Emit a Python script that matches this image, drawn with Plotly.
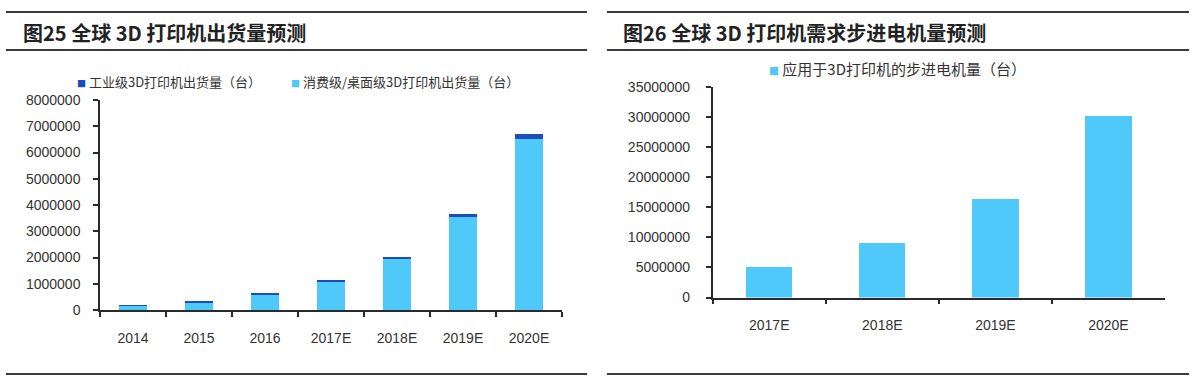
import plotly.graph_objects as go

W, H = 1196, 384

# ---- data ----
years_left = ["2014", "2015", "2016", "2017E", "2018E", "2019E", "2020E"]
industrial = [15000, 20000, 25000, 35000, 50000, 80000, 190000]
consumer = [175000, 300000, 605000, 1085000, 1950000, 3560000, 6530000]

years_right = ["2017E", "2018E", "2019E", "2020E"]
steppers = [5040000, 9000000, 16400000, 30200000]

name_ind = "工业级3D打印机出货量（台）"
name_con = "消费级/桌面级3D打印机出货量（台）"
name_step = "应用于3D打印机的步进电机量（台）"
title_left = "图25 全球 3D 打印机出货量预测"
title_right = "图26 全球 3D 打印机需求步进电机量预测"

C_LIGHT = "#4FC8FA"
C_DARK = "#1C4DB8"
AX = "#2a2a2a"
TXT = "#333333"
NUM_FONT = "Liberation Sans, Arial, sans-serif"
CJK_FONT = "Noto Sans CJK SC, sans-serif"


def px(x):
    return x / W


def py(y):
    return 1 - y / H


fig = go.Figure()
fig.add_trace(go.Bar(x=years_left, y=consumer, name=name_con, marker_color=C_LIGHT,
                     marker_line_width=0, xaxis="x", yaxis="y", showlegend=False))
fig.add_trace(go.Bar(x=years_left, y=industrial, name=name_ind, marker_color=C_DARK,
                     marker_line_width=0, xaxis="x", yaxis="y", showlegend=False))
fig.add_trace(go.Bar(x=years_right, y=steppers, name=name_step, marker_color=C_LIGHT,
                     marker_line_width=0, xaxis="x2", yaxis="y2", showlegend=False))

axis_common = dict(showline=True, linecolor=AX, linewidth=1.5, ticks="outside",
                   tickcolor=AX, tickwidth=1.5, ticklen=5, showgrid=False, zeroline=False,
                   automargin=False,
                   tickfont=dict(family=NUM_FONT, size=14, color=TXT), fixedrange=True)

fig.update_layout(
    width=W, height=H, autosize=False,
    margin=dict(l=0, r=0, t=0, b=0, pad=0),
    paper_bgcolor="white", plot_bgcolor="white",
    barmode="stack", bargap=0.59,
    xaxis=dict(domain=[px(100), px(562)], anchor="y", tickson="boundaries",
               ticklabelstandoff=14, **axis_common),
    yaxis=dict(domain=[py(310), py(100)], anchor="x", range=[0, 8000000], dtick=1000000,
               tickformat="d", ticklabelstandoff=10, **axis_common),
    xaxis2=dict(domain=[px(712.7), px(1165)], anchor="y2", tickson="boundaries",
                ticklabelstandoff=14, **axis_common),
    yaxis2=dict(domain=[py(297.5), py(86.7)], anchor="x2", range=[0, 35000000], dtick=5000000,
                tickformat="d", ticklabelstandoff=13, **axis_common),
)

# frame lines
line_style = dict(color="#3a3a3a", width=2)
for (x0, x1) in [(6, 587), (607, 1189)]:
    for yy in (12, 50, 374):
        fig.add_shape(type="line", xref="paper", yref="paper",
                      x0=px(x0), x1=px(x1), y0=py(yy), y1=py(yy), line=line_style)

# titles
fig.add_annotation(text=f"<b>{title_left}</b>", x=px(21), y=py(32), xref="paper", yref="paper",
                   xanchor="left", yanchor="middle", showarrow=False,
                   font=dict(family=CJK_FONT, size=20, color="#222222"))
fig.add_annotation(text=f"<b>{title_right}</b>", x=px(621), y=py(32), xref="paper", yref="paper",
                   xanchor="left", yanchor="middle", showarrow=False,
                   font=dict(family=CJK_FONT, size=20, color="#222222"))


def legend_item(x, y, color, label, size, anchor="left"):
    fig.add_annotation(
        text=f'<span style="color:{color};font-size:{int(size*0.7)}px">■</span> {label}',
        x=px(x), y=py(y), xref="paper", yref="paper", xanchor=anchor, yanchor="middle",
        showarrow=False, font=dict(family=CJK_FONT, size=size, color=TXT))


legend_item(75, 82, C_DARK, name_ind, 13)
legend_item(289, 82, C_LIGHT, name_con, 13)
legend_item(897, 68, C_LIGHT, name_step, 15, anchor="center")

fig.write_html(
    "out.html",
    config={"displayModeBar": False},
    post_script="document.body.style.margin='0';document.body.style.overflow='hidden';",
)
